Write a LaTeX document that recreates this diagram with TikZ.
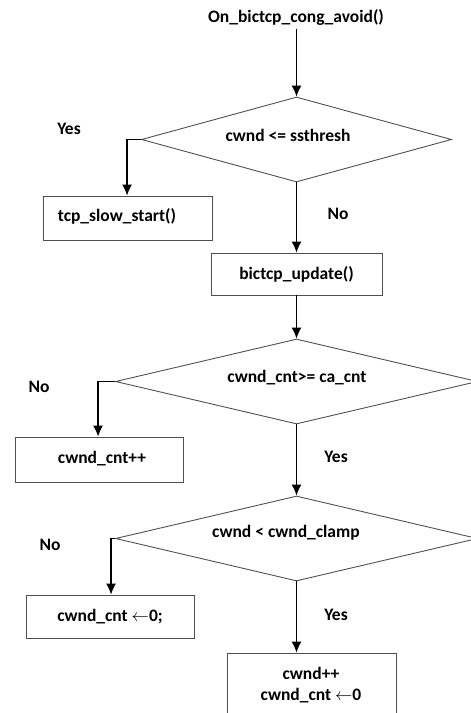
\documentclass[tikz,border=0pt]{standalone}
\usepackage{fontspec}
\setmainfont{Carlito}
\usetikzlibrary{shapes.geometric,arrows.meta}
\definecolor{edge}{HTML}{505050}
\tikzset{
  every node/.style={font=\bfseries\fontsize{17.5}{21}\selectfont, text=black},
  procbox/.style={draw=edge, line width=0.9pt, rectangle, inner sep=0pt},
  decision/.style={draw=edge, line width=0.9pt, diamond, inner sep=0pt},
  flow/.style={draw=black, line width=1.2pt, -{Latex[length=11pt,width=10pt]}},
  branchlbl/.style={font=\bfseries\fontsize{17.5}{21}\selectfont}
}
\begin{document}
\begin{tikzpicture}[x=1pt, y=1pt]
\useasboundingbox (0,0) rectangle (471,-713);

% entry point
\node (start) at (296,-17) {On\_bictcp\_cong\_avoid()};

% first decision
\node[decision, minimum width=310pt, minimum height=85pt] (d1) at (296.5,-139.5) {};
\node (d1t) at (288,-135) {cwnd <= ssthresh};
\node[procbox, minimum width=169pt, minimum height=44pt] (slow) at (127.5,-218) {};
\node (slowt) at (117,-216) {tcp\_slow\_start()};
\node[branchlbl] (yes1) at (69,-129) {Yes};
\node[branchlbl] (no1) at (338,-214) {No};

% update step
\node[procbox, minimum width=171pt, minimum height=42pt] (upd) at (296.5,-274) {bictcp\_update()};

% second decision
\node[decision, minimum width=362pt, minimum height=85pt] (d2) at (296.5,-381.5) {};
\node (d2t) at (297,-378) {cwnd\_cnt>= ca\_cnt};
\node[procbox, minimum width=168pt, minimum height=45pt] (inc) at (99,-459.5) {};
\node (inct) at (102,-459) {cwnd\_cnt++};
\node[branchlbl] (no2) at (39,-387) {No};
\node[branchlbl] (yes2) at (336,-457) {Yes};

% third decision
\node[decision, minimum width=362pt, minimum height=85pt] (d3) at (296.5,-538.5) {};
\node (d3t) at (286,-533) {cwnd < cwnd\_clamp};
\node[procbox, minimum width=168pt, minimum height=43pt] (reset) at (110,-616.5) {};
\node (resett) at (110,-617) {cwnd\_cnt $\leftarrow$0;};
\node[branchlbl] (no3) at (50,-545) {No};
\node[branchlbl] (yes3) at (336,-615) {Yes};
\node[procbox, minimum width=169pt, minimum height=70pt] (grow) at (311.5,-688) {};
\node (growa) at (311,-673) {cwnd++};
\node (growb) at (311,-696) {cwnd\_cnt $\leftarrow$0};

% connectors
\draw[flow] (start.south -| d1.north) -- (d1.north);
\draw[flow] (d1.west) -- ++(-14,0) coordinate (k1) -- (k1 |- slow.north);
\draw[flow] (d1.south) -- (d1.south |- upd.north);
\draw[flow] (upd.south -| d2.north) -- (d2.north);
\draw[flow] (d2.west) -- ++(-17,0) coordinate (k2) -- (k2 |- inc.north);
\draw[flow] (d2.south) -- (d3.north);
\draw[flow] (d3.west) -- ++(-4,0) coordinate (k3) -- (k3 |- reset.north);
\draw[flow] (d3.south) -- (d3.south |- grow.north);
\end{tikzpicture}
\end{document}
